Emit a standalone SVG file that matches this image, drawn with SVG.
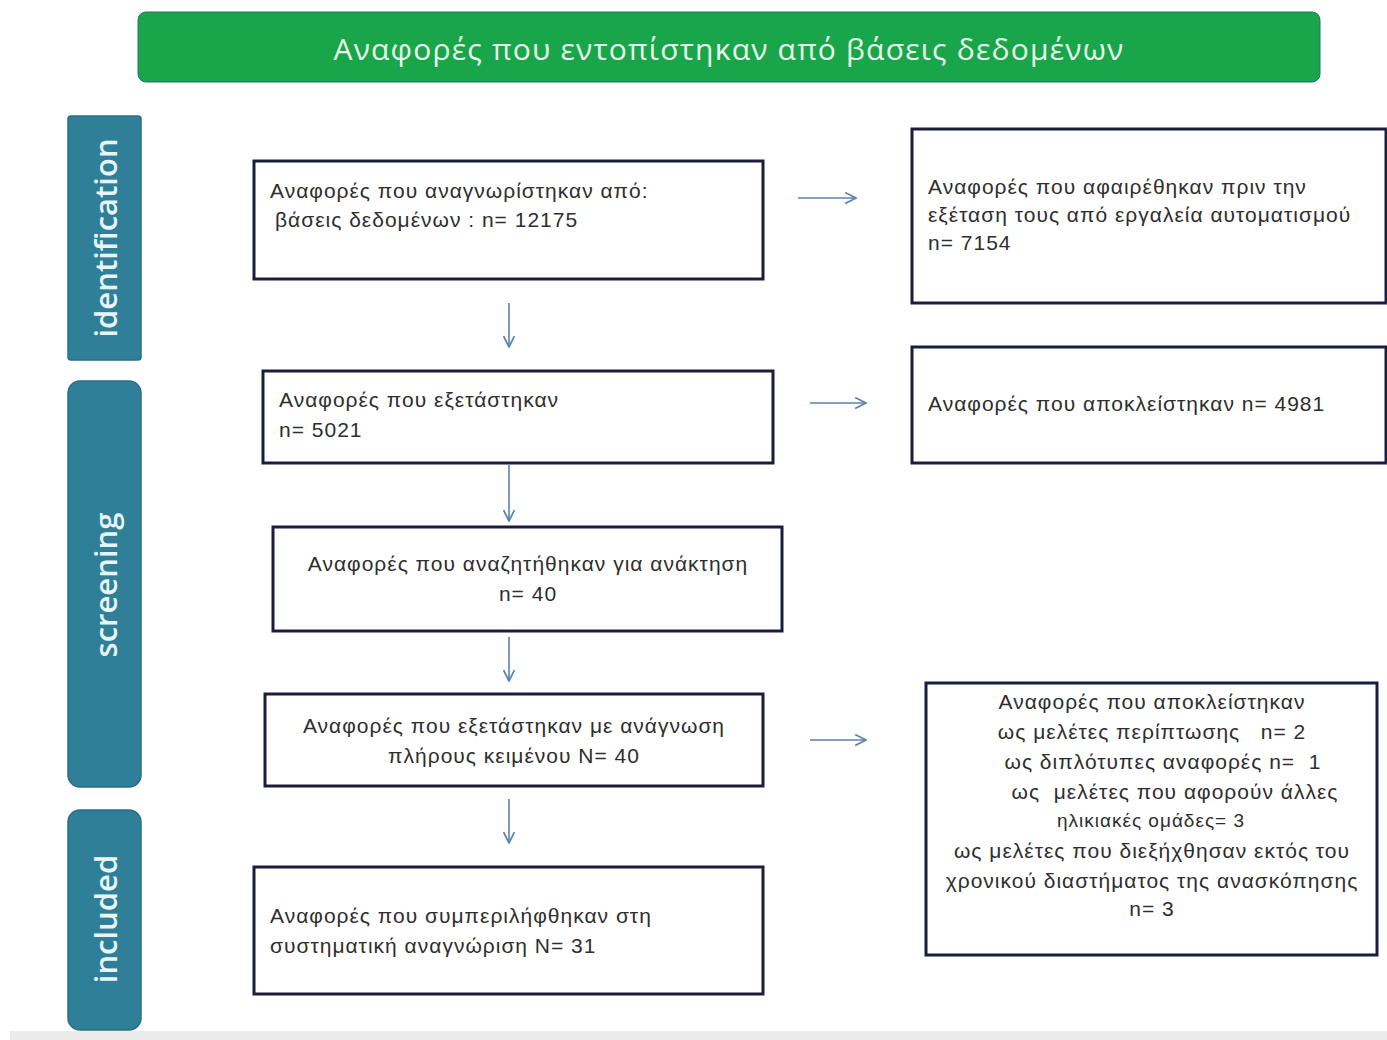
<svg xmlns="http://www.w3.org/2000/svg" width="1387" height="1040" viewBox="0 0 1387 1040">
<defs>
<style>
.box{fill:#ffffff;stroke:#1b1d3c;stroke-width:3}
.t{font-family:"Liberation Sans",Arial,sans-serif;font-size:21px;letter-spacing:1px;fill:#2e2e2e;white-space:pre}
.c{text-anchor:middle}
.side{fill:#2f7f98;stroke:#2a6d86;stroke-width:1.5}
.st{font-family:"Open Sans","DejaVu Sans",sans-serif;font-weight:600;font-size:31px;fill:#e8f4f6;text-anchor:middle}
.hd{font-family:"Open Sans","DejaVu Sans",sans-serif;font-size:30px;letter-spacing:1.2px;fill:#e9f8ea;text-anchor:middle}
.arr{stroke:#5a82aa;stroke-width:1.6;fill:none;marker-end:url(#ah)}
</style>
<marker id="ah" viewBox="0 0 12 12" refX="11" refY="6" markerWidth="13" markerHeight="13" markerUnits="userSpaceOnUse" orient="auto">
<path d="M1,1 L11,6 L1,11" fill="none" stroke="#5a82aa" stroke-width="1.6"/>
</marker>
</defs>
<rect x="0" y="0" width="1387" height="1040" fill="#ffffff"/>
<rect x="10" y="1031" width="1377" height="9" fill="#ebebeb"/>

<g id="header">
<rect x="138" y="12" width="1182" height="70" rx="8" fill="#19a64b" stroke="#2b6e70" stroke-width="1"/>
<text class="hd" x="729" y="60">Αναφορές που εντοπίστηκαν από βάσεις δεδομένων</text>
</g>

<g id="side-identification">
<rect class="side" x="68" y="116" width="73" height="244" rx="3"/>
<text class="st" transform="translate(117,238) rotate(-90)">identification</text>
</g>
<g id="side-screening">
<rect class="side" x="68" y="381" width="73" height="406" rx="12"/>
<text class="st" transform="translate(117,585) rotate(-90)">screening</text>
</g>
<g id="side-included">
<rect class="side" x="68" y="810" width="73" height="220" rx="12"/>
<text class="st" transform="translate(117,919) rotate(-90)">included</text>
</g>

<g id="node-identified">
<rect class="box" x="254" y="161" width="509" height="118"/>
<text class="t" x="270" y="198">Αναφορές που αναγνωρίστηκαν από:</text>
<text class="t" x="275" y="227">βάσεις δεδομένων : n= 12175</text>
</g>
<g id="node-removed">
<rect class="box" x="912" y="129" width="474" height="174"/>
<text class="t" x="928" y="194">Αναφορές που αφαιρέθηκαν πριν την</text>
<text class="t" x="928" y="222">εξέταση τους από εργαλεία αυτοματισμού</text>
<text class="t" x="928" y="250">n= 7154</text>
</g>
<g id="node-screened">
<rect class="box" x="263" y="371" width="510" height="92"/>
<text class="t" x="279" y="407">Αναφορές που εξετάστηκαν</text>
<text class="t" x="279" y="437">n= 5021</text>
</g>
<g id="node-excluded">
<rect class="box" x="912" y="347" width="474" height="116"/>
<text class="t" x="928" y="411">Αναφορές που αποκλείστηκαν n= 4981</text>
</g>
<g id="node-sought">
<rect class="box" x="273" y="527" width="509" height="104"/>
<text class="t c" x="528" y="571">Αναφορές που αναζητήθηκαν για ανάκτηση</text>
<text class="t c" x="528" y="601">n= 40</text>
</g>
<g id="node-fulltext">
<rect class="box" x="265" y="694" width="498" height="92"/>
<text class="t c" x="514" y="733">Αναφορές που εξετάστηκαν με ανάγνωση</text>
<text class="t c" x="514" y="763">πλήρους κειμένου N= 40</text>
</g>
<g id="node-fulltext-excluded">
<rect class="box" x="926" y="683" width="451" height="272"/>
<text class="t c" x="1152" y="709">Αναφορές που αποκλείστηκαν</text>
<text class="t c" x="1152" y="739">ως μελέτες περίπτωσης   n= 2</text>
<text class="t c" x="1163" y="769">ως διπλότυπες αναφορές n=  1</text>
<text class="t c" x="1175" y="799">ως  μελέτες που αφορούν άλλες</text>
<text class="t c" x="1151" y="827" style="font-size:19px">ηλικιακές ομάδες= 3</text>
<text class="t c" x="1152" y="858">ως μελέτες που διεξήχθησαν εκτός του</text>
<text class="t c" x="1152" y="888">χρονικού διαστήματος της ανασκόπησης</text>
<text class="t c" x="1152" y="916">n= 3</text>
</g>
<g id="node-included">
<rect class="box" x="254" y="867" width="509" height="127"/>
<text class="t" x="270" y="923">Αναφορές που συμπεριλήφθηκαν στη</text>
<text class="t" x="270" y="953">συστηματική αναγνώριση N= 31</text>
</g>

<g id="connectors">
<line class="arr" x1="798" y1="198" x2="856" y2="198"/>
<line class="arr" x1="810" y1="403" x2="866" y2="403"/>
<line class="arr" x1="810" y1="740" x2="866" y2="740"/>
<line class="arr" x1="509" y1="303" x2="509" y2="347"/>
<line class="arr" x1="509" y1="465" x2="509" y2="521"/>
<line class="arr" x1="509" y1="637" x2="509" y2="681"/>
<line class="arr" x1="509" y1="799" x2="509" y2="843"/>
</g>
</svg>
